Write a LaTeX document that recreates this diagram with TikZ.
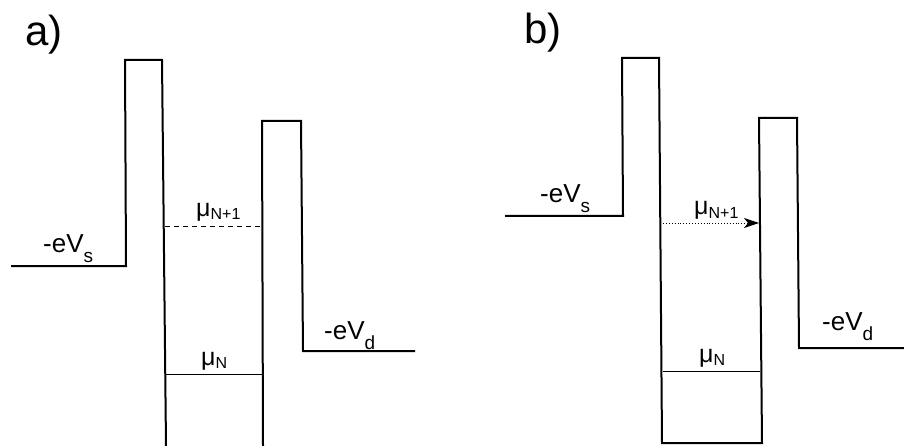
\documentclass[tikz,border=0pt]{standalone}
\usepackage{fontspec}
\setmainfont{Liberation Sans}
\usetikzlibrary{arrows.meta}
\tikzset{
  band/.style={line width=2pt, line join=miter},
  level/.style={line width=0.9pt},
  lbl/.style={inner sep=0pt, anchor=base west, font=\fontsize{26}{26}\selectfont},
  mulbl/.style={inner sep=0pt, anchor=base west, font=\fontsize{25}{25}\selectfont},
  panel/.style={inner sep=0pt, anchor=base west, font=\fontsize{42}{42}\selectfont}
}
\newcommand{\musub}[1]{\raisebox{-3pt}{\fontsize{16}{16}\selectfont #1}}
\begin{document}
\begin{tikzpicture}[x=1pt,y=-1pt]
\useasboundingbox (0,0) rectangle (904,446);
% ---------- panel a ----------
\node[panel] (pa) at (25,46) {a)};
\draw[band] (11,266) -- (126,266) -- (125,60) -- (162,60) -- (166,446);
\draw[band] (263,446) -- (262,121) -- (301,121) -- (303,351) -- (415,351);
\coordinate (a1l) at (165,226); \coordinate (a1r) at (262,226);
\draw[level, dash pattern=on 5pt off 4pt] (a1l) -- (a1r);
\coordinate (a0l) at (166,374); \coordinate (a0r) at (263,374);
\draw[level] (a0l) -- (a0r);
\node[lbl] (aVs) at (43,252) {-eV\raisebox{-10pt}{\fontsize{19}{19}\selectfont s}};
\node[lbl] (aVd) at (324,339) {-eV\raisebox{-10pt}{\fontsize{19}{19}\selectfont d}};
\node[mulbl] (amu1) at (196,217) {μ\musub{N+1}};
\node[mulbl] (amu0) at (201,365) {μ\musub{N}};
% ---------- panel b ----------
\node[panel] (pb) at (524,44) {b)};
\draw[band] (505,216) -- (623,216) -- (622,58) -- (659,58) -- (662,443) -- (762,443) -- (759,118) -- (797,118) -- (799,348) -- (904,348);
\coordinate (b1l) at (663,223); \coordinate (b1r) at (759,223);
\draw[level, dotted] (b1l) -- ([xshift=-10pt]b1r);
\fill (b1r) -- ++(-15,-5) -- ++(4,5) -- ++(-4,5) -- cycle;
\coordinate (b0l) at (663,371); \coordinate (b0r) at (760,371);
\draw[level] (b0l) -- (b0r);
\node[lbl] (bVs) at (540,203) {-eV\raisebox{-10pt}{\fontsize{19}{19}\selectfont s}};
\node[lbl] (bVd) at (822,330) {-eV\raisebox{-10pt}{\fontsize{19}{19}\selectfont d}};
\node[mulbl] (bmu1) at (694,215) {μ\musub{N+1}};
\node[mulbl] (bmu0) at (699,362) {μ\musub{N}};
\end{tikzpicture}
\end{document}
